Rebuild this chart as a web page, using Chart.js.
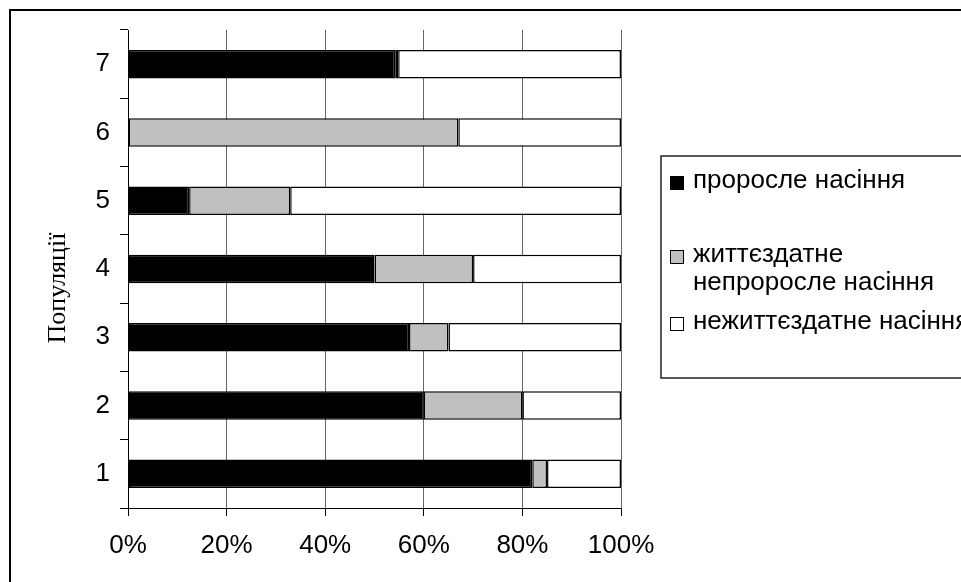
<!DOCTYPE html>
<html>
<head>
<meta charset="utf-8">
<script src="https://cdn.jsdelivr.net/npm/chart.js@4/dist/chart.umd.min.js"></script>
<style>
  html, body { margin: 0; padding: 0; background: #fff; }
  #wrap { width: 961px; height: 582px; position: relative; }
</style>
</head>
<body>
<div id="wrap"><canvas id="c" width="961" height="582"></canvas></div>
<script>
// Populations (bottom to top)
const populations = ['1', '2', '3', '4', '5', '6', '7'];

// Share of seeds per population, %
const sprouted      = [82, 60, 57, 50, 12.4, 0, 54.2];
const viableDormant = [3, 20, 8, 20, 20.5, 67, 0.6];
const nonViable     = [15, 20, 35, 30, 67.1, 33, 45.2];

const seriesNames = ['проросле насіння', 'життєздатне непроросле насіння', 'нежиттєздатне насіння'];
const legendLines = [['проросле насіння'], ['життєздатне', 'непроросле насіння'], ['нежиттєздатне насіння']];
const seriesColors = ['#000000', '#c0c0c0', '#ffffff'];

const axisTitle = 'Популяції';
const xTicks = [0, 20, 40, 60, 80, 100];

const SANS = "'Liberation Sans', Arial, sans-serif";
const SERIF = "'Liberation Serif', 'Times New Roman', serif";

// White page with the frame around the whole chart
const framePlugin = {
  id: 'frame',
  beforeDraw(chart) {
    const ctx = chart.ctx;
    ctx.save();
    ctx.fillStyle = '#fff';
    ctx.fillRect(0, 0, chart.width, chart.height);
    ctx.strokeStyle = '#000';
    ctx.lineWidth = 2;
    ctx.strokeRect(10, 10, 1200, 1200);
    ctx.restore();
  }
};

// Rotated category-axis title, sitting a little below the plot's middle
const axisTitlePlugin = {
  id: 'axisTitle',
  afterDraw(chart) {
    const ctx = chart.ctx;
    ctx.save();
    ctx.translate(58, 288);
    ctx.rotate(-Math.PI / 2);
    ctx.font = '26px ' + SERIF;
    ctx.fillStyle = '#000';
    ctx.textAlign = 'center';
    ctx.textBaseline = 'middle';
    ctx.fillText(axisTitle, 0, 0);
    ctx.restore();
  }
};

// Boxed legend on the right, with swatches and wrapped labels
const boxLegendPlugin = {
  id: 'boxLegend',
  afterDraw(chart) {
    const ctx = chart.ctx;
    ctx.save();
    ctx.strokeStyle = '#222';
    ctx.lineWidth = 1.5;
    ctx.strokeRect(661, 156, 400, 222);
    const rows = [[181], [255, 283], [322]];
    ctx.font = '26px ' + SANS;
    ctx.textBaseline = 'middle';
    chart.data.datasets.forEach((ds, i) => {
      const yc = rows[i][0] + 2;
      ctx.fillStyle = ds.backgroundColor;
      ctx.fillRect(670, yc - 7, 14, 14);
      ctx.strokeStyle = '#000';
      ctx.lineWidth = 1;
      ctx.strokeRect(670.5, yc - 6.5, 13, 13);
      ctx.fillStyle = '#000';
      legendLines[i].forEach((line, j) => {
        ctx.fillText(line, 693, rows[i][j]);
      });
    });
    ctx.restore();
  }
};

const datasets = [sprouted, viableDormant, nonViable].map((vals, i) => ({
  label: seriesNames[i],
  data: vals,
  backgroundColor: seriesColors[i],
  borderColor: '#000',
  borderWidth: 1.5,
  borderSkipped: false,
  categoryPercentage: 1,
  barPercentage: 0.417
}));

new Chart(document.getElementById('c'), {
  type: 'bar',
  data: { labels: populations, datasets },
  plugins: [framePlugin, axisTitlePlugin, boxLegendPlugin],
  options: {
    indexAxis: 'y',
    responsive: false,
    animation: false,
    layout: { padding: { left: 40, top: 30, right: 340, bottom: 0 } },
    plugins: { legend: { display: false }, tooltip: { enabled: false } },
    scales: {
      x: {
        stacked: true,
        min: 0,
        max: 100,
        afterBuildTicks(scale) { scale.ticks = xTicks.map(v => ({ value: v })); },
        afterFit(scale) { scale.height = 74; },
        ticks: {
          callback: v => v + '%',
          color: '#000',
          font: { family: SANS, size: 26 },
          padding: 14,
          maxRotation: 0
        },
        grid: { color: '#666', lineWidth: 1, tickColor: '#000', tickLength: 8, drawTicks: true },
        border: { color: '#000', width: 1 }
      },
      y: {
        stacked: true,
        reverse: true,
        afterFit(scale) { scale.width = 88; },
        ticks: {
          color: '#000',
          font: { family: SANS, size: 26 },
          padding: 10
        },
        grid: { drawOnChartArea: false, tickColor: '#000', tickLength: 8, offset: true },
        border: { color: '#000', width: 1 }
      }
    }
  }
});
</script>
</body>
</html>
